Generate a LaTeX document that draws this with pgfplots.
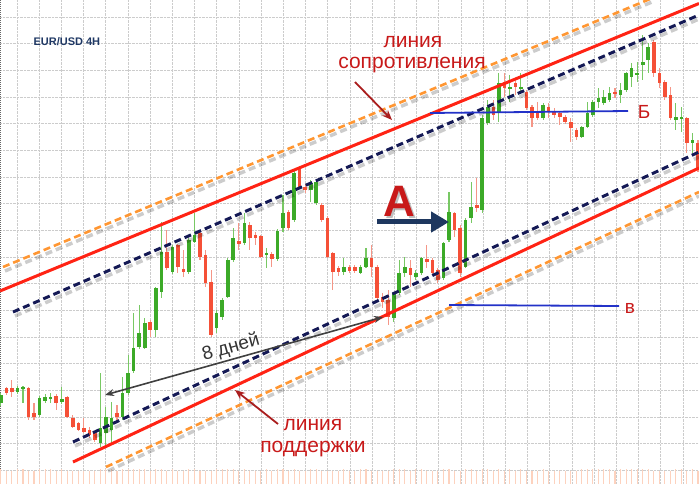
\documentclass[border=0pt]{standalone}
\usepackage{pgfplots}
\pgfplotsset{compat=1.18}
\usepackage{pgfplotstable}
\usetikzlibrary{arrows.meta}
\usepackage{fontspec}
\setmainfont{Liberation Sans}
\definecolor{cgreen}{RGB}{60,170,40}
\definecolor{cgwick}{RGB}{120,200,100}
\definecolor{cred}{RGB}{245,80,55}
\definecolor{crwick}{RGB}{245,150,135}
\definecolor{lred}{RGB}{255,35,20}
\definecolor{navy}{RGB}{20,25,85}
\definecolor{dorange}{RGB}{255,150,50}
\definecolor{txtred}{RGB}{200,25,25}
\definecolor{arred}{RGB}{170,30,30}
\definecolor{blu}{RGB}{35,50,200}
\definecolor{arrnavy}{RGB}{30,55,95}
\definecolor{volor}{RGB}{253,210,190}
\definecolor{titnavy}{RGB}{31,56,100}

% green (rising) candles: x, wick top, wick bottom, body top, body bottom (pixel rows)
\pgfplotstableread{
x hi lo bt bb
0.8 393 406 395 403
17.4 386 394 388 392
23.0 386 403 387 389
39.5 396 417 398 415
45.1 394 403 397 401
50.6 393 403 397 399
61.7 387 404 399 402
100.4 373 447 428 443
105.9 407 447 417 433
111.5 402 445 418 430
122.5 377 420 393 417
128.1 355 395 373 393
133.6 313 373 348 371
139.1 305 349 333 347
144.7 318 349 323 348
155.7 287 337 288 330
161.3 222 298 252 292
172.3 245 274 247 272
188.9 238 274 240 272
194.5 213 243 235 242
216.6 310 333 313 328
222.1 298 320 300 317
227.7 258 298 260 297
233.2 228 262 238 260
244.3 213 245 223 243
266.4 248 268 253 255
277.5 229 261 231 259
283.0 195 232 213 228
294.1 170 222 173 220
310.7 180 202 183 190
316.2 181 205 182 203
343.9 258 275 267 272
360.5 265 274 267 273
366.0 248 268 258 267
393.7 292 322 293 318
399.2 260 295 273 293
404.7 257 277 267 273
415.8 270 280 273 277
421.3 257 275 258 273
443.5 242 280 243 278
449.0 192 242 212 240
465.6 218 268 220 267
471.1 182 223 207 218
482.2 115 213 118 210
487.7 100 125 107 123
498.8 73 122 83 112
509.9 75 102 87 89
520.9 73 92 87 89
543.1 103 120 105 118
581.8 126 138 127 137
587.3 102 128 113 127
592.9 100 117 102 115
598.4 88 108 98 102
603.9 90 105 97 103
609.5 87 102 93 100
620.5 83 103 90 95
626.1 72 92 73 90
631.6 63 87 68 77
637.1 62 82 73 75
642.7 35 80 62 65
648.2 43 73 47 60
675.9 103 130 117 120
681.4 107 132 117 119
692.5 133 153 140 143
}\gtab

% red (falling) candles
\pgfplotstableread{
x hi lo bt bb
6.3 387 395 388 393
11.9 380 397 388 392
28.5 387 420 388 417
34.0 403 420 413 417
56.1 394 410 396 403
67.2 396 418 397 417
72.7 415 428 418 427
78.3 422 431 423 430
83.8 418 433 428 432
89.3 427 438 430 435
94.9 431 442 433 440
117.0 405 422 413 417
150.2 320 337 322 330
166.8 230 270 252 268
177.9 244 273 245 267
183.4 250 277 269 272
200.0 232 260 233 257
205.5 250 287 255 283
211.1 270 337 282 335
238.7 223 250 241 244
249.8 222 250 225 238
255.3 232 245 235 238
260.9 235 258 236 257
271.9 252 267 254 259
288.5 210 230 212 228
299.6 166 189 167 187
305.1 184 193 187 190
321.7 203 222 205 220
327.3 216 258 218 257
332.8 252 290 253 272
338.3 266 276 268 272
349.4 265 273 267 271
354.9 265 273 267 271
371.5 245 277 258 267
377.1 265 300 267 298
382.6 293 308 297 302
388.1 290 325 300 317
410.3 260 287 268 275
426.9 245 268 259 262
432.4 258 275 260 273
437.9 268 283 270 280
454.5 212 237 213 230
460.1 225 277 228 273
476.7 178 212 205 208
493.3 100 120 107 115
504.3 73 97 82 88
515.4 78 95 83 87
526.5 90 110 92 108
532.0 105 127 107 118
537.5 102 120 112 118
548.6 103 118 107 112
554.1 108 118 112 115
559.7 111 125 113 117
565.2 115 124 117 122
570.7 118 142 122 128
576.3 128 140 130 137
615.0 88 98 92 94
653.7 40 77 42 73
659.3 68 88 73 83
664.8 80 100 82 97
670.3 87 120 95 118
686.9 117 153 118 143
698.0 140 172 143 168
}\rtab

\begin{document}
\begin{tikzpicture}
\begin{axis}[
  name=ax,
  width=699pt, height=484pt, scale only axis,
  xmin=0, xmax=699, ymin=0, ymax=484, y dir=reverse,
  axis line style={draw=none},
  xtick={17,39.2,...,699}, ytick={17,43.67,...,484},
  xticklabels={}, yticklabels={}, major tick length=0pt,
  grid=major, grid style={densely dotted, black!20, line width=0.7pt},
  clip=true,
]
% left border
\addplot[densely dotted, black!60, line width=1pt, mark=none] coordinates {(0.8,0) (0.8,484)};
% volume strip
\addplot[draw=none, mark=none, error bars/.cd, y dir=both, y explicit, error mark=none,
  error bar style={draw=volor, line width=1.1pt}] table[x=x, y expr=477, y error expr=8]{\gtab};
\addplot[draw=none, mark=none, error bars/.cd, y dir=both, y explicit, error mark=none,
  error bar style={draw=volor, line width=1.1pt}] table[x=x, y expr=478, y error expr=7]{\rtab};
% wicks
\addplot[draw=none, mark=none, error bars/.cd, y dir=both, y explicit, error mark=none,
  error bar style={draw=cgwick, line width=1.1pt}]
  table[x=x, y expr={(\thisrow{hi}+\thisrow{lo})/2}, y error expr={(\thisrow{lo}-\thisrow{hi})/2}]{\gtab};
\addplot[draw=none, mark=none, error bars/.cd, y dir=both, y explicit, error mark=none,
  error bar style={draw=crwick, line width=1.1pt}]
  table[x=x, y expr={(\thisrow{hi}+\thisrow{lo})/2}, y error expr={(\thisrow{lo}-\thisrow{hi})/2}]{\rtab};
% bodies
\addplot[draw=none, mark=none, error bars/.cd, y dir=both, y explicit, error mark=none,
  error bar style={draw=cgreen, line width=3.6pt}]
  table[x=x, y expr={(\thisrow{bt}+\thisrow{bb})/2}, y error expr={(\thisrow{bb}-\thisrow{bt})/2}]{\gtab};
\addplot[draw=none, mark=none, error bars/.cd, y dir=both, y explicit, error mark=none,
  error bar style={draw=cred, line width=3.6pt}]
  table[x=x, y expr={(\thisrow{bt}+\thisrow{bb})/2}, y error expr={(\thisrow{bb}-\thisrow{bt})/2}]{\rtab};

% shadows of dashed lines
\addplot[black, opacity=0.2, line width=3.5pt, dash pattern=on 7pt off 4pt, mark=none] coordinates {(5,271) (652,2)};
\addplot[black, opacity=0.2, line width=3.5pt, dash pattern=on 7pt off 4pt, mark=none] coordinates {(15,316) (699,19)};
\addplot[black, opacity=0.2, line width=3.5pt, dash pattern=on 7pt off 4pt, mark=none] coordinates {(75,446) (699,157)};
\addplot[black, opacity=0.2, line width=3.5pt, dash pattern=on 7pt off 4pt, mark=none] coordinates {(108,471) (699,196)};
% channel lines
\addplot[dorange, line width=2.6pt, dash pattern=on 7pt off 4pt, mark=none] coordinates {(3,267) (650,-1)};
\addplot[lred, line width=3pt, mark=none] coordinates {(0,291) (699,3.5)};
\addplot[navy, line width=3pt, dash pattern=on 7pt off 4pt, mark=none] coordinates {(13,312) (699,15)};
\addplot[navy, line width=3pt, dash pattern=on 7pt off 4pt, mark=none] coordinates {(73,442) (699,152)};
\addplot[lred, line width=3pt, mark=none] coordinates {(73,462) (699,168)};
\addplot[dorange, line width=2.6pt, dash pattern=on 7pt off 4pt, mark=none] coordinates {(106,467) (699,192)};
% horizontal levels
\addplot[blu, line width=1.8pt, mark=none] coordinates {(430,113) (628,111)};
\addplot[blu, line width=1.8pt, mark=none] coordinates {(449,305) (619,306)};
% arrows
\addplot[arred, line width=1.8pt, mark=none, -{Stealth[length=10pt,width=8pt]}] coordinates {(355,82) (392,120)};
\addplot[arred, line width=1.8pt, mark=none, -{Stealth[length=10pt,width=8pt]}] coordinates {(278,424) (235,390)};
\addplot[black!75, line width=1.6pt, mark=none, {Stealth[length=9pt,width=7pt]}-{Stealth[length=9pt,width=7pt]}] coordinates {(105,395) (383,317)};
\addplot[arrnavy, line width=5pt, mark=none, -{Triangle[length=18pt,width=20pt]}] coordinates {(377,222) (449,222)};

% texts
\node[anchor=west, font=\bfseries\fontsize{11}{13}\selectfont, text=titnavy] at (axis cs:30,42) {EUR/USD 4H};
\node[font=\fontsize{21}{24}\selectfont, text=txtred] at (axis cs:413,42) {линия};
\node[font=\fontsize{21}{24}\selectfont, text=txtred] at (axis cs:412,65) {сопротивления};
\node[font=\fontsize{21}{24}\selectfont, text=txtred] at (axis cs:313,425) {линия};
\node[font=\fontsize{21}{24}\selectfont, text=txtred] at (axis cs:313,449) {поддержки};
\node[font=\fontsize{19}{22}\selectfont, text=black!80, rotate=15.7] at (axis cs:231,348) {8 дней};
\node[font=\fontsize{19}{22}\selectfont, text=txtred] at (axis cs:644,112) {Б};
\node[font=\fontsize{19}{22}\selectfont, text=txtred] at (axis cs:630,308) {в};
\node[font=\bfseries\fontsize{44}{48}\selectfont, text=black, opacity=0.25] at (axis cs:401,203) {A};
\node[font=\bfseries\fontsize{44}{48}\selectfont, text=txtred] at (axis cs:399,201) {A};
\end{axis}
\pgfresetboundingbox
\path (ax.south west) rectangle (ax.north east);
\end{tikzpicture}
\end{document}
